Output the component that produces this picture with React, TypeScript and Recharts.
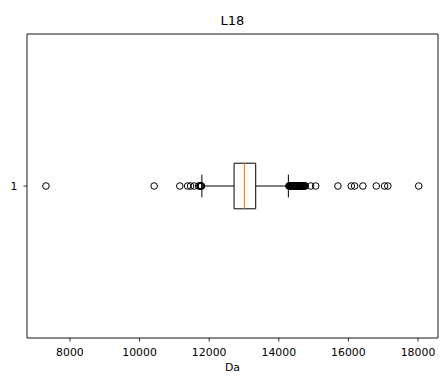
import React from 'react';
import {
  ScatterChart,
  Scatter,
  XAxis,
  YAxis,
  ReferenceArea,
  ReferenceLine,
} from 'recharts';

// ---- data ----
const categories = ['1'];
const title = 'L18';
const xLabel = 'Da';
const xTicks = [8000, 10000, 12000, 14000, 16000, 18000];
const xDomain = [6766, 18574];
const yDomain = [0.5, 1.5];

// box statistics: [whiskerLow, q1, median, q3, whiskerHigh]
const boxStats = [11790, 12715, 13013, 13337, 14275];

const lowerOutliers = [
  7311, 10419, 11156, 11380, 11466, 11571, 11700, 11735, 11752, 11768, 11779,
];
const upperOutliers = [
  14290, 14302, 14315, 14327, 14340, 14352, 14366, 14378, 14391, 14405, 14418,
  14430, 14446, 14458, 14471, 14485, 14497, 14512, 14524, 14537, 14551, 14566,
  14580, 14594, 14607, 14622, 14640, 14655, 14672, 14690, 14708, 14725, 14744,
  14762, 14915, 15059, 15699, 16083, 16178, 16416, 16800, 17039, 17133, 18020,
];

const BOX_HALF = 0.075;
const CAP_HALF = 0.0375;

const outlierData = [...lowerOutliers, ...upperOutliers].map((v) => ({ x: v, y: 1 }));

const OpenCircle = (props: any) => {
  const { cx, cy } = props;
  if (cx == null || cy == null) return null;
  return <circle cx={cx} cy={cy} r={3.3} fill="none" stroke="#000" strokeWidth={1} />;
};

const FONT = '"DejaVu Sans", sans-serif';

export default function App() {
  const [wLo, q1, med, q3, wHi] = boxStats;
  return (
    <div style={{ position: 'absolute', left: 0, top: 0, width: 440, height: 376, background: '#fff', fontFamily: FONT }}>
      <ScatterChart
        width={440}
        height={376}
        margin={{ top: 34, right: 2, bottom: 0, left: 0 }}
      >
        <XAxis
          type="number"
          dataKey="x"
          domain={xDomain}
          ticks={xTicks}
          allowDataOverflow
          height={38}
          tickSize={3.6}
          tickMargin={6.2}
          axisLine={false}
          tickLine={{ stroke: '#000', strokeWidth: 0.8 }}
          tick={{ fill: '#000', fontSize: 10.9, fontFamily: FONT }}
        />
        <YAxis
          type="number"
          dataKey="y"
          domain={yDomain}
          ticks={[1]}
          tickFormatter={() => categories[0]}
          allowDataOverflow
          width={27}
          tickSize={3.6}
          tickMargin={6}
          axisLine={false}
          tickLine={{ stroke: '#000', strokeWidth: 0.8 }}
          tick={{ fill: '#000', fontSize: 10.9, fontFamily: FONT }}
        />
        {/* frame */}
        <ReferenceArea
          x1={xDomain[0]}
          x2={xDomain[1]}
          y1={yDomain[0]}
          y2={yDomain[1]}
          fill="none"
          stroke="#000"
          strokeWidth={0.9}
          fillOpacity={0}
        />
        {/* box */}
        <ReferenceArea
          x1={q1}
          x2={q3}
          y1={1 - BOX_HALF}
          y2={1 + BOX_HALF}
          fill="none"
          fillOpacity={0}
          stroke="#000"
          strokeWidth={1}
        />
        {/* whiskers */}
        <ReferenceLine segment={[{ x: wLo, y: 1 }, { x: q1, y: 1 }]} stroke="#000" strokeWidth={1} />
        <ReferenceLine segment={[{ x: q3, y: 1 }, { x: wHi, y: 1 }]} stroke="#000" strokeWidth={1} />
        {/* caps */}
        <ReferenceLine segment={[{ x: wLo, y: 1 - CAP_HALF }, { x: wLo, y: 1 + CAP_HALF }]} stroke="#000" strokeWidth={1} />
        <ReferenceLine segment={[{ x: wHi, y: 1 - CAP_HALF }, { x: wHi, y: 1 + CAP_HALF }]} stroke="#000" strokeWidth={1} />
        {/* median */}
        <ReferenceLine segment={[{ x: med, y: 1 - BOX_HALF }, { x: med, y: 1 + BOX_HALF }]} stroke="#ff7f0e" strokeWidth={1.2} />
        <Scatter data={outlierData} shape={OpenCircle} isAnimationActive={false} />
      </ScatterChart>
      <div
        style={{
          position: 'absolute',
          left: 132,
          width: 201,
          top: 13,
          textAlign: 'center',
          fontSize: 13,
          lineHeight: '16px',
          color: '#000',
        }}
      >
        {title}
      </div>
      <div
        style={{
          position: 'absolute',
          left: 182,
          width: 101,
          top: 361,
          textAlign: 'center',
          fontSize: 10.9,
          lineHeight: '13px',
          color: '#000',
        }}
      >
        {xLabel}
      </div>
    </div>
  );
}
